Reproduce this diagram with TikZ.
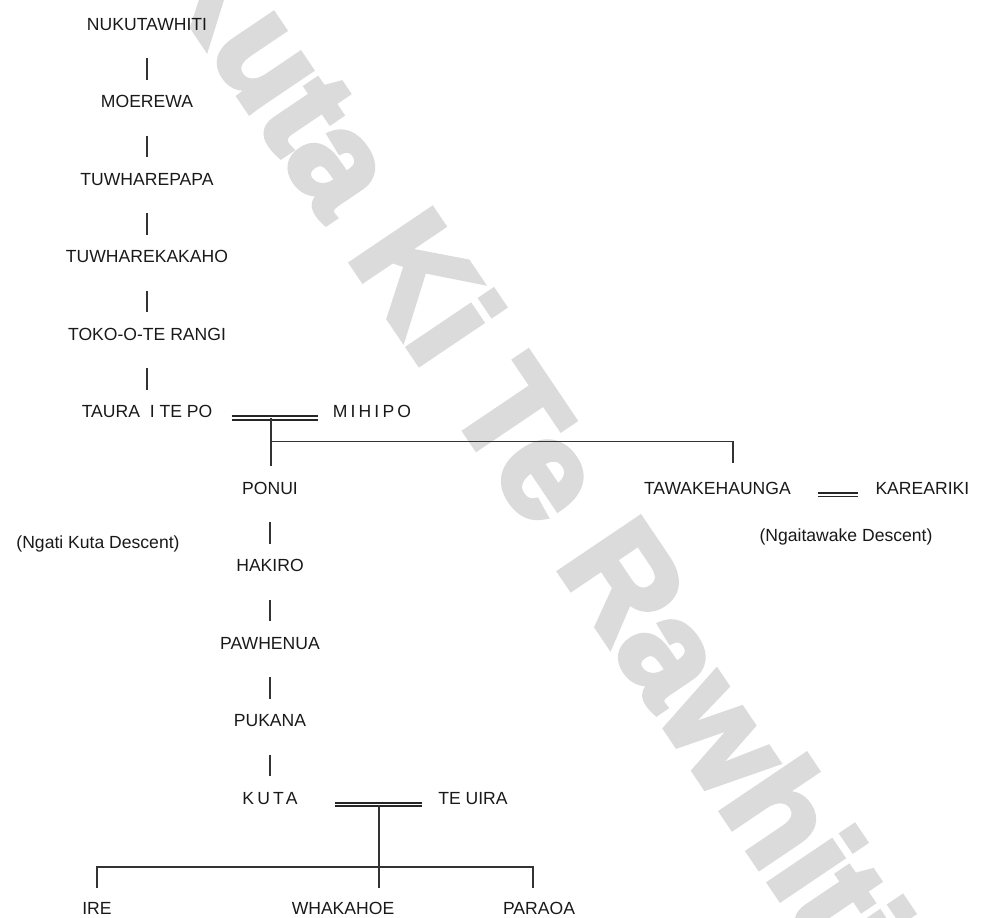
\documentclass[tikz,border=0pt]{standalone}
\usepackage{fontspec}
\setmainfont{Liberation Sans}
\newfontfamily\spacedfont[LetterSpace=18]{Liberation Sans}
\newfontfamily\markfont[UprightFont=* Bold,FakeBold=4]{Liberation Sans}
\usetikzlibrary{calc}

\begin{document}
\begin{tikzpicture}[x=0.02cm,y=-0.02cm,node distance=1.55cm,
  line/.style={draw=black!80,line width=1pt},
  bar/.style={line,shorten <=0.55cm,shorten >=0.3cm},
  marriage/.style={draw=black!85,double=white,double distance=1pt,line width=1.1pt},
  name node/.style={inner sep=0pt,text height=7.2pt,text depth=0pt,text=black!90,
    font=\fontsize{10}{12}\selectfont},
  spaced node/.style={name node,font=\spacedfont\fontsize{10}{12}\selectfont}]
  \useasboundingbox (0,0) rectangle (988,918);
  \clip (0,0) rectangle (988,918);
  % watermark
  \node[rotate=-56,anchor=base west,inner sep=0pt,text=black!14,
    font=\markfont\fontsize{80}{80}\selectfont] (mark) at (150,-36) {Kuta Ki Te Rawhiti};

  \node[name node] (nuku) at (147,24) {NUKUTAWHITI};
  \node[name node] (moerewa) [below of=nuku] {MOEREWA};
  \node[name node] (tuwpapa) [below of=moerewa] {TUWHAREPAPA};
  \node[name node] (tuwkakaho) [below of=tuwpapa] {TUWHAREKAKAHO};
  \node[name node] (toko) [below of=tuwkakaho] {TOKO-O-TE RANGI};
  \node[name node] (taura) [below of=toko] {TAURA~ I TE PO};
  \node[spaced node] (mihipo) [right of=taura, node distance=4.5cm] {MIHIPO};

  \node[name node] (ponui) at (270,488) {PONUI};
  \node[name node] (tawa) [right of=ponui, node distance=8.95cm] {TAWAKEHAUNGA};
  \node[name node] (kare) [right of=tawa, node distance=4.1cm] {KAREARIKI};
  \node[name node] (ngati) at (98,542) {(Ngati Kuta Descent)};
  \node[name node] (ngaitawake) at (846,535) {(Ngaitawake Descent)};

  \node[name node] (hakiro) [below of=ponui] {HAKIRO};
  \node[name node] (pawhenua) [below of=hakiro] {PAWHENUA};
  \node[name node] (pukana) [below of=pawhenua] {PUKANA};
  \node[spaced node] (kuta) [below of=pukana] {KUTA};
  \node[name node] (teuira) [right of=kuta, node distance=4.06cm] {TE UIRA};

  \node[name node] (ire) at (97,908) {IRE};
  \node[name node] (whakahoe) at (343,908) {WHAKAHOE};
  \node[name node] (paraoa) at (539,908) {PARAOA};

  \path[bar]
    (nuku) edge (moerewa)
    (moerewa) edge (tuwpapa)
    (tuwpapa) edge (tuwkakaho)
    (tuwkakaho) edge (toko)
    (toko) edge (taura)
    (ponui) edge (hakiro)
    (hakiro) edge (pawhenua)
    (pawhenua) edge (pukana)
    (pukana) edge (kuta);

  \draw[marriage,shorten <=0.38cm,shorten >=0.28cm] (taura.south east) -- (mihipo.south west)
    coordinate[pos=0.49] (m1);
  \draw[line,shorten >=0.31cm] (m1) -- (m1 |- ponui.north);
  \draw[line] ($(m1)!0.37!(m1 |- ponui.north)$) -| ([xshift=0.31cm,yshift=0.37cm]tawa.north);

  \draw[marriage,shorten <=0.53cm,shorten >=0.35cm] (tawa.south east) -- (kare.south west);

  \draw[marriage,shorten <=0.75cm,shorten >=0.32cm] (kuta.south east) -- (teuira.south west)
    coordinate[pos=0.58] (m2);
  \draw[line,shorten >=0.27cm] (m2) -- (m2 |- whakahoe.north);
  \draw[line] ([yshift=0.27cm]ire.north) |- ($(m2)!0.644!(m2 |- whakahoe.north)$)
    -| ([xshift=-0.12cm,yshift=0.27cm]paraoa.north);
\end{tikzpicture}
\end{document}
